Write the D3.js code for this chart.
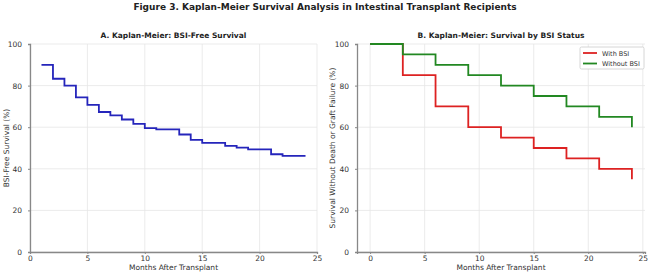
<!DOCTYPE html>
<html>
<head>
<meta charset="utf-8">
<script src="https://cdn.jsdelivr.net/npm/d3@7"></script>
<style>
  body { margin: 0; background: #fff; }
  svg { font-family: "DejaVu Sans", sans-serif; }
</style>
</head>
<body>
<div id="chart"></div>
<script>
// data
var monthsA = [1, 2, 3, 4, 5, 6, 7, 8, 9, 10, 11, 13, 14, 15, 17, 18, 19, 21, 22, 24];
var survA   = [90, 83.3, 80, 74.3, 70.7, 67.3, 65.7, 63.7, 61.6, 59.6, 59.0, 56.5, 53.9, 52.5, 51.0, 50.2, 49.3, 47.0, 46.2, 46.2];

var monthsB = [0, 3, 6, 9, 12, 15, 18, 21, 24];
var withBSI    = [100, 85, 70, 60, 55, 50, 45, 40, 35];
var withoutBSI = [100, 95, 90, 85, 80, 75, 70, 65, 60];
var seriesNames = ["With BSI", "Without BSI"];

var xTicks = [0, 5, 10, 15, 20, 25];
var yTicks = [0, 20, 40, 60, 80, 100];

var width = 650, height = 273;
var svg = d3.select("#chart").append("svg")
    .attr("width", width).attr("height", height);

svg.append("text")
    .attr("x", 325).attr("y", 10)
    .attr("text-anchor", "middle")
    .style("font-size", "9px").style("font-weight", "bold").style("fill", "#222")
    .text("Figure 3. Kaplan-Meier Survival Analysis in Intestinal Transplant Recipients");

function drawPanel(opt) {
    var x = d3.scaleLinear().domain(opt.xDomain).range([opt.left, opt.right]);
    var y = d3.scaleLinear().domain([0, 100]).range([252, 44]);
    var g = svg.append("g");

    // grid
    g.selectAll(".gx").data(xTicks).enter().append("line")
        .attr("x1", d => x(d)).attr("x2", d => x(d))
        .attr("y1", y(0)).attr("y2", y(100))
        .attr("stroke", "#e6e6e6").attr("stroke-width", 0.8);
    g.selectAll(".gy").data(yTicks).enter().append("line")
        .attr("x1", opt.left).attr("x2", opt.right)
        .attr("y1", d => y(d)).attr("y2", d => y(d))
        .attr("stroke", "#e6e6e6").attr("stroke-width", 0.8);

    // axes
    var xAxis = g.append("g").attr("transform", "translate(0," + y(0) + ")")
        .call(d3.axisBottom(x).tickValues(xTicks).tickSize(2).tickPadding(2));
    var yAxis = g.append("g").attr("transform", "translate(" + opt.left + ",0)")
        .call(d3.axisLeft(y).tickValues(yTicks).tickSize(2).tickPadding(6));
    [xAxis, yAxis].forEach(function(a) {
        a.select(".domain").attr("stroke", "#888").attr("stroke-width", 1.3);
        a.selectAll(".tick line").attr("stroke", "#888");
        a.selectAll(".tick text").style("font-size", "7.5px").style("fill", "#333")
            .style("font-family", "DejaVu Sans, sans-serif");
    });

    g.append("text")
        .attr("x", (opt.left + opt.right) / 2).attr("y", 38)
        .attr("text-anchor", "middle")
        .style("font-size", "7.5px").style("font-weight", "bold").style("fill", "#222")
        .text(opt.title);
    g.append("text")
        .attr("x", (opt.left + opt.right) / 2).attr("y", 270)
        .attr("text-anchor", "middle")
        .style("font-size", "7.5px").style("fill", "#333")
        .text("Months After Transplant");
    g.append("text")
        .attr("transform", "translate(" + opt.ylabX + "," + ((y(0) + y(100)) / 2) + ") rotate(-90)")
        .attr("text-anchor", "middle")
        .style("font-size", "7.5px").style("fill", "#333")
        .text(opt.ylabel);

    var line = d3.line().curve(d3.curveStepAfter)
        .x(d => x(d[0])).y(d => y(d[1]));
    opt.series.forEach(function(s) {
        var pts = s.xs.map((m, i) => [m, s.ys[i]]);
        g.append("path").datum(pts)
            .attr("d", line)
            .attr("fill", "none")
            .attr("stroke", s.color)
            .attr("stroke-width", 1.8);
    });
    return {x: x, y: y, g: g};
}

// step ends with a drop at last month: append last value for the vertical drop
function kmPoints(xs, ys) {
    return {xs: xs, ys: ys};
}

drawPanel({
    left: 30, right: 317, xDomain: [0, 25],
    title: "A. Kaplan-Meier: BSI-Free Survival",
    ylabel: "BSI-Free Survival (%)", ylabX: 9,
    series: [{xs: monthsA, ys: survA, color: "#2525bb"}]
});

// panel B: drop to final value drawn as vertical segment at last month
var bx = monthsB.slice(0, -1).concat([monthsB[monthsB.length - 1], monthsB[monthsB.length - 1]]);
var redY = withBSI.slice(0, -1).concat([withBSI[withBSI.length - 2], withBSI[withBSI.length - 1]]);
var greenY = withoutBSI.slice(0, -1).concat([withoutBSI[withoutBSI.length - 2], withoutBSI[withoutBSI.length - 1]]);

var pB = drawPanel({
    left: 357, right: 645, xDomain: [-1.2, 25.2],
    title: "B. Kaplan-Meier: Survival by BSI Status",
    ylabel: "Survival Without Death or Graft Failure (%)", ylabX: 335,
    series: [
        {xs: bx, ys: redY, color: "#dd2222"},
        {xs: bx, ys: greenY, color: "#228822"}
    ]
});

// legend
var lg = svg.append("g").attr("transform", "translate(580,47)");
lg.append("rect").attr("width", 64).attr("height", 22)
    .attr("fill", "#fff").attr("stroke", "#ccc").attr("stroke-width", 0.8).attr("rx", 1.5);
var legendColors = ["#dd2222", "#228822"];
seriesNames.forEach(function(n, i) {
    lg.append("line").attr("x1", 3).attr("x2", 17)
        .attr("y1", 6 + i * 10.5).attr("y2", 6 + i * 10.5)
        .attr("stroke", legendColors[i]).attr("stroke-width", 1.8);
    lg.append("text").attr("x", 22).attr("y", 8.5 + i * 10.5)
        .style("font-size", "6.5px").style("fill", "#333").text(n);
});
</script>
</body>
</html>
